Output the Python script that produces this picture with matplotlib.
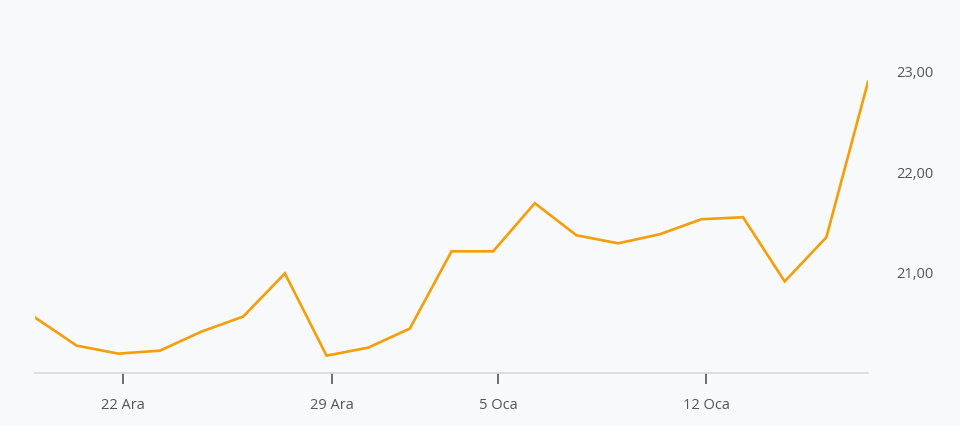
import matplotlib
matplotlib.use("Agg")
import matplotlib.pyplot as plt
from matplotlib.ticker import FuncFormatter

plt.rcParams['font.family'] = ['Open Sans', 'DejaVu Sans']

# daily closes (trading days only)
dates = ['18 Ara', '19 Ara', '22 Ara', '23 Ara', '24 Ara', '25 Ara', '26 Ara',
         '29 Ara', '30 Ara', '31 Ara', '2 Oca', '5 Oca', '6 Oca', '7 Oca',
         '8 Oca', '9 Oca', '12 Oca', '13 Oca', '14 Oca', '15 Oca', '16 Oca']
prices = [20.55, 20.27, 20.19, 20.22, 20.41, 20.56, 20.99,
          20.17, 20.25, 20.44, 21.21, 21.21, 21.69, 21.37,
          21.29, 21.38, 21.53, 21.55, 20.91, 21.35, 22.90]
tick_labels = ['22 Ara', '29 Ara', '5 Oca', '12 Oca']
y_ticks = [21, 22, 23]

bg = '#f8f9fa'
fig = plt.figure(figsize=(9.6, 4.26), dpi=100, facecolor=bg)
ax = fig.add_axes([35/960, 1 - 372.7/426, (868 - 35)/960, (372.7 - 10)/426])
ax.set_facecolor(bg)

x = list(range(len(prices)))
ax.plot(x, prices, color='#f59e0b', lw=1.9, solid_joinstyle='miter')

ax.set_xlim(0, len(prices) - 1)
ax.set_ylim(20.0, 20.0 + (372.7 - 10) / 100.3)

# ticks sit a little after the data points
tick_pos = [dates.index(t) + 0.12 for t in tick_labels]
ax.set_xticks(tick_pos)
ax.set_xticklabels(tick_labels)
ax.tick_params(axis='x', length=8, width=1.2, color='#555555', pad=10,
               labelsize=10.5, labelcolor='#555555', direction='out')

ax.yaxis.tick_right()
ax.set_yticks(y_ticks)
ax.yaxis.set_major_formatter(FuncFormatter(lambda v, p: f'{v:.2f}'.replace('.', ',')))
ax.tick_params(axis='y', length=0, pad=20, labelsize=10.5, labelcolor='#555555')

for s in ['top', 'left', 'right']:
    ax.spines[s].set_visible(False)
ax.spines['bottom'].set_color('#d9d9d9')
ax.spines['bottom'].set_linewidth(1.2)

fig.savefig('out.png', dpi=100, facecolor=bg)
